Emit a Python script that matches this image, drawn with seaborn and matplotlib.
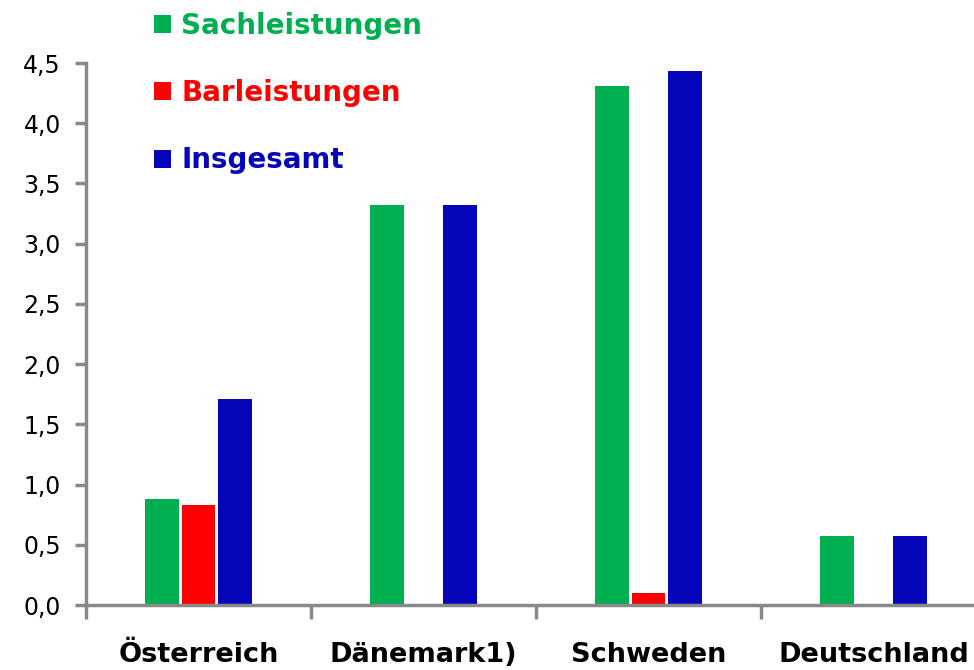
import numpy as np
import pandas as pd
import matplotlib
matplotlib.use("Agg")
import matplotlib.pyplot as plt
import seaborn as sns
from matplotlib.ticker import FuncFormatter, FixedLocator

# Kategorien und Werte
laender = ['Österreich', 'Dänemark1)', 'Schweden', 'Deutschland']
serien = ['Sachleistungen', 'Barleistungen', 'Insgesamt']
sach = [0.88, 3.32, 4.31, 0.57]
bar = [0.83, np.nan, 0.10, np.nan]
gesamt = [1.71, 3.32, 4.43, 0.57]
farben = ['#00AF50', '#FF0000', '#0505BA']
yticks = [0.0, 0.5, 1.0, 1.5, 2.0, 2.5, 3.0, 3.5, 4.0, 4.5]

df = pd.DataFrame({
    'Land': laender * 3,
    'Art': [serien[0]] * 4 + [serien[1]] * 4 + [serien[2]] * 4,
    'Wert': sach + bar + gesamt,
})

sns.set_style('white')
plt.rcParams['font.family'] = ['DejaVu Sans']

fig = plt.figure(figsize=(9.74, 6.7), dpi=100)
ax = fig.add_axes([86 / 974, 1 - 605 / 670, 900 / 974, 542 / 670])

sns.barplot(data=df, x='Land', y='Wert', hue='Art', hue_order=serien,
            order=laender, palette=farben, width=0.49, gap=0.08,
            saturation=1, ax=ax, edgecolor='none')

grau = '#898989'
ax.set_ylim(0, 4.5)
ax.set_xlim(-0.5, 3.5)
ax.set_yticks(yticks)
ax.yaxis.set_major_formatter(FuncFormatter(lambda v, p: f'{v:.1f}'.replace('.', ',')))
ax.tick_params(axis='y', direction='out', length=8, width=2.5, color=grau,
               labelsize=17, pad=10, left=True, labelcolor='black')

# Trennstriche zwischen Kategorien, Beschriftungen in der Mitte
ax.xaxis.set_major_locator(FixedLocator([-0.5, 0.5, 1.5, 2.5, 3.5]))
ax.xaxis.set_minor_locator(FixedLocator([0, 1, 2, 3]))
ax.set_xticklabels([], minor=False)
ax.set_xticklabels(laender, minor=True, fontweight='bold', fontsize=19.5)
ax.tick_params(axis='x', which='major', direction='out', length=10, width=2.5,
               color=grau, bottom=True)
ax.tick_params(axis='x', which='minor', length=0, pad=27, labelcolor='black')

ax.set_xlabel('')
ax.set_ylabel('')
for s in ['top', 'right']:
    ax.spines[s].set_visible(False)
for s in ['left', 'bottom']:
    ax.spines[s].set_color(grau)
    ax.spines[s].set_linewidth(2.5)

handles, labels = ax.get_legend_handles_labels()
ax.get_legend().remove()
leg = fig.legend(handles, labels, loc='upper left', bbox_to_anchor=(129 / 974, 1.02),
                 frameon=False, prop={'weight': 'bold', 'size': 20},
                 handlelength=0.62, handleheight=0.62, handletextpad=0.36,
                 labelspacing=1.42)
for txt, c in zip(leg.get_texts(), farben):
    txt.set_color(c)

fig.savefig('out.png', dpi=100)
